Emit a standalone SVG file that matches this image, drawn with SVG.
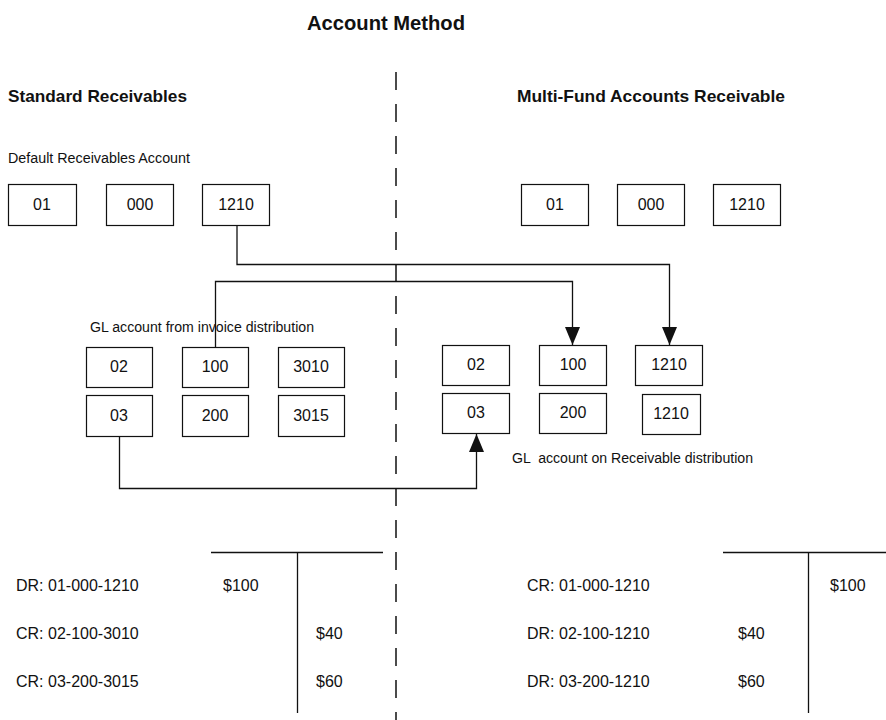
<svg xmlns="http://www.w3.org/2000/svg" width="886" height="720" viewBox="0 0 886 720">
  <style>
    .bg { fill: #ffffff; }
    .box { fill: #ffffff; stroke: #111; stroke-width: 1.2; }
    .seg { font-family: "Liberation Sans", Arial, sans-serif; font-size: 16px; fill: #111; text-anchor: middle; }
    .title { font-family: "Liberation Sans", Arial, sans-serif; font-size: 20px; font-weight: bold; fill: #111; }
    .head { font-family: "Liberation Sans", Arial, sans-serif; font-size: 17px; font-weight: bold; fill: #111; }
    .note { font-family: "Liberation Sans", Arial, sans-serif; font-size: 14px; fill: #111; }
    .ledger { font-family: "Liberation Sans", Arial, sans-serif; font-size: 16px; fill: #111; }
    .wire { fill: none; stroke: #111; stroke-width: 1.3; }
    .divider { fill: none; stroke: #111; stroke-width: 1.5; stroke-dasharray: 18 14; }
    .tline { fill: none; stroke: #111; stroke-width: 1.3; }
  </style>
  <defs>
    <marker id="arrow" markerUnits="userSpaceOnUse" markerWidth="18" markerHeight="15" refX="18" refY="7.5" orient="auto">
      <path d="M0,0 L18,7.5 L0,15 Z" fill="#111"/>
    </marker>
  </defs>

  <rect class="bg" x="0" y="0" width="886" height="720"/>

  <!-- headings -->
  <g id="headings">
    <text class="title" x="307" y="30" textLength="158" lengthAdjust="spacingAndGlyphs">Account Method</text>
    <text class="head" x="8" y="102" textLength="179" lengthAdjust="spacingAndGlyphs">Standard Receivables</text>
    <text class="head" x="517" y="102" textLength="268" lengthAdjust="spacingAndGlyphs">Multi-Fund Accounts Receivable</text>
    <text class="note" x="8" y="163" textLength="182" lengthAdjust="spacingAndGlyphs">Default Receivables Account</text>
    <text class="note" x="90" y="332" textLength="224" lengthAdjust="spacingAndGlyphs">GL account from invoice distribution</text>
    <text class="note" x="512" y="463" textLength="241" lengthAdjust="spacingAndGlyphs" xml:space="preserve">GL  account on Receivable distribution</text>
  </g>

  <!-- centre divider -->
  <line class="divider" x1="396" y1="72" x2="396" y2="720"/>

  <!-- default receivables account, standard side -->
  <g id="std-default-fund"><rect class="box" x="8.5" y="184.5" width="68" height="41"/><text class="seg" x="42" y="210">01</text></g>
  <g id="std-default-dept"><rect class="box" x="106.5" y="184.5" width="67" height="41"/><text class="seg" x="140" y="210">000</text></g>
  <g id="std-default-acct"><rect class="box" x="202.5" y="184.5" width="67" height="41"/><text class="seg" x="236" y="210">1210</text></g>

  <!-- default receivables account, multi-fund side -->
  <g id="mf-default-fund"><rect class="box" x="521.5" y="184.5" width="67" height="41"/><text class="seg" x="555" y="210">01</text></g>
  <g id="mf-default-dept"><rect class="box" x="617.5" y="184.5" width="67" height="41"/><text class="seg" x="651" y="210">000</text></g>
  <g id="mf-default-acct"><rect class="box" x="713.5" y="184.5" width="67" height="41"/><text class="seg" x="747" y="210">1210</text></g>

  <!-- invoice distribution accounts -->
  <g id="inv-fund-1"><rect class="box" x="86.5" y="347.5" width="66" height="40"/><text class="seg" x="119" y="372">02</text></g>
  <g id="inv-dept-1"><rect class="box" x="182.5" y="347.5" width="66" height="40"/><text class="seg" x="215" y="372">100</text></g>
  <g id="inv-acct-1"><rect class="box" x="278.5" y="347.5" width="66" height="40"/><text class="seg" x="311" y="372">3010</text></g>
  <g id="inv-fund-2"><rect class="box" x="86.5" y="395.5" width="66" height="41"/><text class="seg" x="119" y="421">03</text></g>
  <g id="inv-dept-2"><rect class="box" x="182.5" y="395.5" width="66" height="41"/><text class="seg" x="215" y="421">200</text></g>
  <g id="inv-acct-2"><rect class="box" x="278.5" y="395.5" width="66" height="41"/><text class="seg" x="311" y="421">3015</text></g>

  <!-- receivable distribution accounts -->
  <g id="rcv-fund-1"><rect class="box" x="442.5" y="345.5" width="67" height="40"/><text class="seg" x="476" y="370">02</text></g>
  <g id="rcv-dept-1"><rect class="box" x="539.5" y="345.5" width="67" height="40"/><text class="seg" x="573" y="370">100</text></g>
  <g id="rcv-acct-1"><rect class="box" x="635.5" y="345.5" width="67" height="40"/><text class="seg" x="669" y="370">1210</text></g>
  <g id="rcv-fund-2"><rect class="box" x="442.5" y="393.5" width="67" height="40"/><text class="seg" x="476" y="418">03</text></g>
  <g id="rcv-dept-2"><rect class="box" x="539.5" y="393.5" width="67" height="40"/><text class="seg" x="573" y="418">200</text></g>
  <g id="rcv-acct-2"><rect class="box" x="642.5" y="394.5" width="58" height="40"/><text class="seg" x="671" y="419">1210</text></g>

  <!-- connectors -->
  <g id="connectors">
    <path class="wire" d="M237,226 V264.5 H669.5 V345" marker-end="url(#arrow)"/>
    <path class="wire" d="M215.5,347 V281.5 H572.5 V345" marker-end="url(#arrow)"/>
    <path class="wire" d="M119.5,437 V488.5 H476.5 V434" marker-end="url(#arrow)"/>
  </g>

  <!-- T-account, standard receivables -->
  <g id="std-ledger">
    <line class="tline" x1="211" y1="552.5" x2="383" y2="552.5"/>
    <line class="tline" x1="297.5" y1="552" x2="297.5" y2="713"/>
    <text class="ledger" x="16" y="591">DR: 01-000-1210</text>
    <text class="ledger" x="223" y="591">$100</text>
    <text class="ledger" x="16" y="639">CR: 02-100-3010</text>
    <text class="ledger" x="316" y="639">$40</text>
    <text class="ledger" x="16" y="687">CR: 03-200-3015</text>
    <text class="ledger" x="316" y="687">$60</text>
  </g>

  <!-- T-account, multi-fund receivables -->
  <g id="mf-ledger">
    <line class="tline" x1="723" y1="552.5" x2="886" y2="552.5"/>
    <line class="tline" x1="808.5" y1="552" x2="808.5" y2="713"/>
    <text class="ledger" x="527" y="591">CR: 01-000-1210</text>
    <text class="ledger" x="830" y="591">$100</text>
    <text class="ledger" x="527" y="639">DR: 02-100-1210</text>
    <text class="ledger" x="738" y="639">$40</text>
    <text class="ledger" x="527" y="687">DR: 03-200-1210</text>
    <text class="ledger" x="738" y="687">$60</text>
  </g>
</svg>
